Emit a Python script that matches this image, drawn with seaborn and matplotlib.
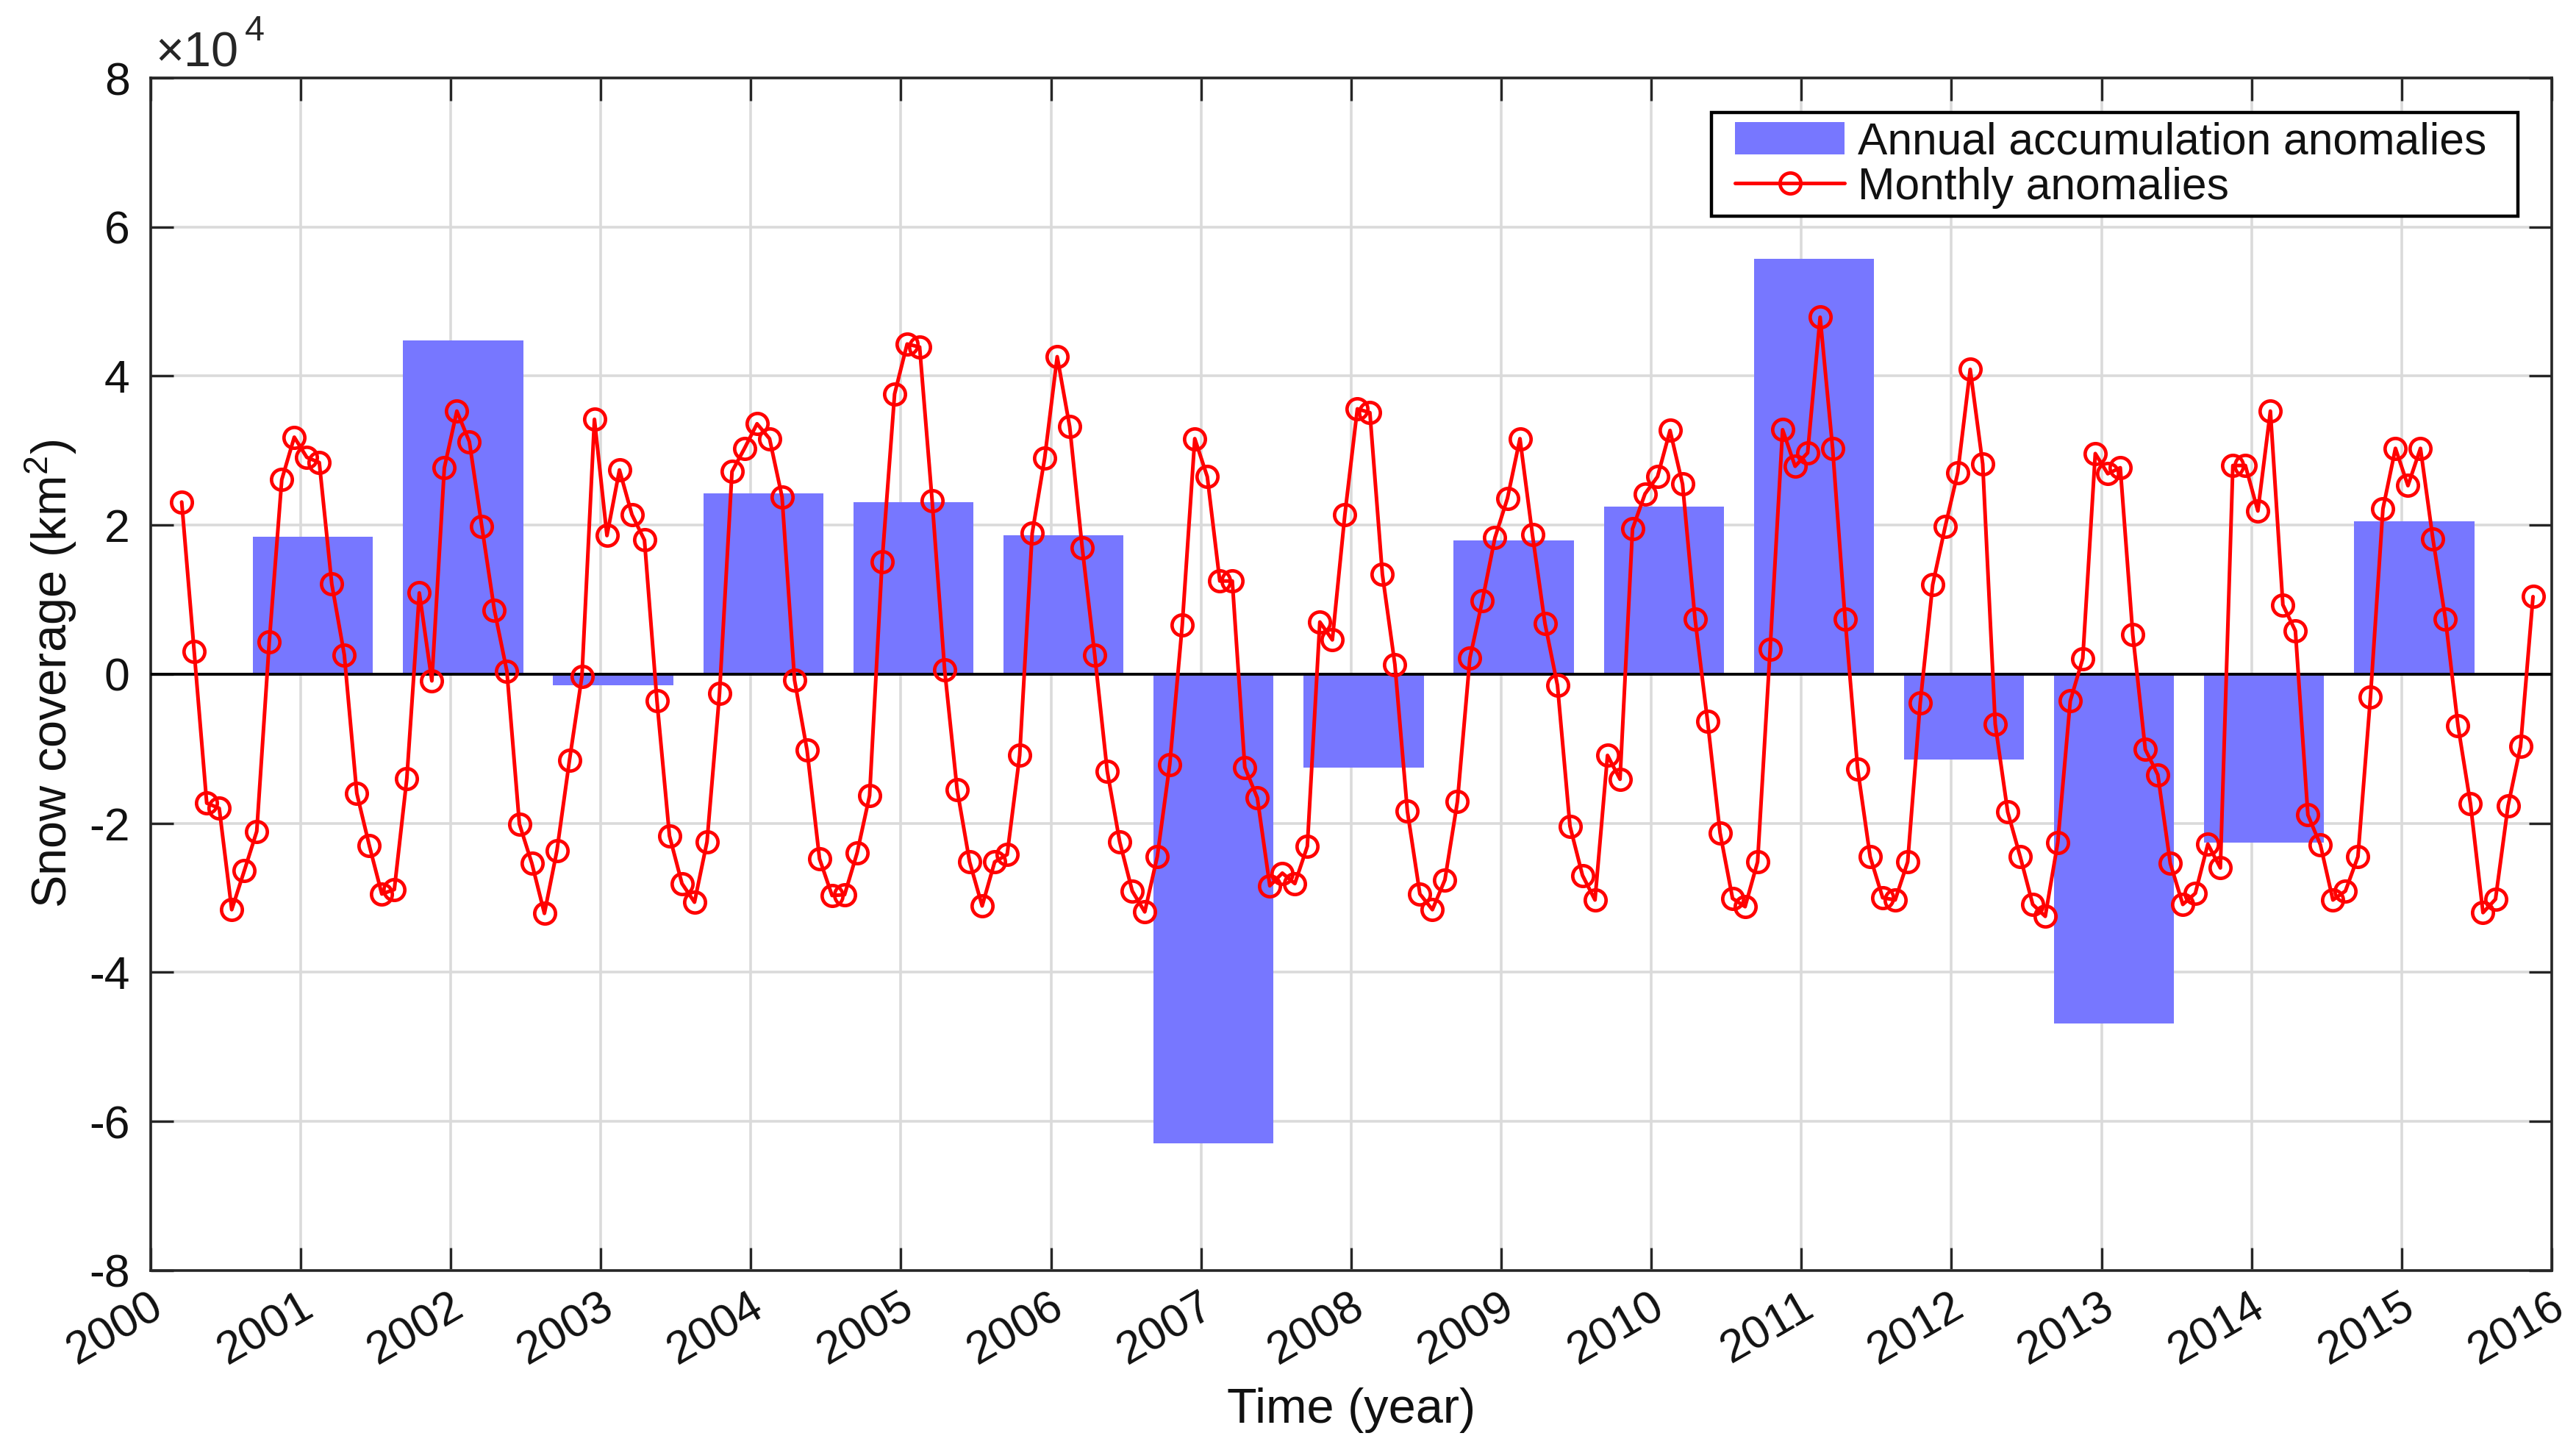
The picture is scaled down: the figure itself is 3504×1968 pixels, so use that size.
import numpy as np
import pandas as pd
import matplotlib
matplotlib.use("Agg")
import matplotlib.pyplot as plt
import matplotlib.transforms as mtransforms
from matplotlib.patches import Patch, Rectangle
from matplotlib.lines import Line2D
import seaborn as sns

# annual accumulation anomalies (x 10^4 km^2)
bar_years = list(range(2001, 2016))
bar_values = [1.84, 4.48, -0.15, 2.43, 2.31, 1.86, -6.30, -1.25,
              1.79, 2.25, 5.57, -1.15, -4.69, -2.26, 2.05]

# monthly anomalies (x 10^4 km^2), Mar 2000 .. Nov 2015
monthly_start = "2000-03"
monthly_values = [
    2.31, 0.30, -1.73, -1.80, -3.16, -2.64, -2.11, 0.43, 2.61, 3.18,              # 2000
    2.91, 2.84, 1.21, 0.26, -1.60, -2.30, -2.95, -2.89, -1.40, 1.09, -0.09, 2.77,  # 2001
    3.53, 3.12, 1.98, 0.86, 0.04, -2.01, -2.54, -3.21, -2.37, -1.16, -0.03, 3.42,  # 2002
    1.86, 2.74, 2.14, 1.80, -0.36, -2.17, -2.81, -3.06, -2.25, -0.26, 2.72, 3.03,  # 2003
    3.36, 3.16, 2.38, -0.08, -1.02, -2.48, -2.97, -2.96, -2.40, -1.63, 1.51, 3.76,  # 2004
    4.43, 4.39, 2.33, 0.06, -1.55, -2.52, -3.11, -2.52, -2.42, -1.09, 1.89, 2.90,  # 2005
    4.26, 3.32, 1.70, 0.26, -1.30, -2.25, -2.91, -3.19, -2.45, -1.21, 0.66, 3.16,  # 2006
    2.65, 1.25, 1.25, -1.25, -1.66, -2.84, -2.67, -2.81, -2.31, 0.70, 0.46, 2.14,  # 2007
    3.56, 3.51, 1.34, 0.13, -1.84, -2.95, -3.16, -2.76, -1.71, 0.22, 0.99, 1.83,  # 2008
    2.36, 3.16, 1.87, 0.68, -0.15, -2.04, -2.70, -3.03, -1.09, -1.41, 1.95, 2.42,  # 2009
    2.65, 3.27, 2.55, 0.74, -0.63, -2.13, -3.01, -3.12, -2.52, 0.33, 3.28, 2.79,  # 2010
    2.97, 4.79, 3.03, 0.74, -1.27, -2.45, -3.00, -3.03, -2.52, -0.39, 1.20, 1.98,  # 2011
    2.70, 4.09, 2.82, -0.67, -1.85, -2.45, -3.09, -3.25, -2.26, -0.36, 0.21, 2.96,  # 2012
    2.69, 2.77, 0.53, -1.01, -1.35, -2.54, -3.09, -2.94, -2.28, -2.60, 2.80, 2.80,  # 2013
    2.19, 3.53, 0.93, 0.58, -1.89, -2.29, -3.03, -2.91, -2.45, -0.31, 2.22, 3.03,  # 2014
    2.53, 3.03, 1.81, 0.74, -0.69, -1.74, -3.20, -3.02, -1.77, -0.97, 1.04,        # 2015
]

year_ticks = list(range(2000, 2017))
y_ticks = list(range(-8, 9, 2))

BAR_COLOR = "#7777ff"
LINE_COLOR = "#ff0000"
TEXT_COLOR = "#111111"

sns.set_style("ticks")
plt.rcParams["font.family"] = ["Liberation Sans", "DejaVu Sans"]
plt.rcParams["mathtext.default"] = "regular"
plt.rcParams["axes.unicode_minus"] = False

# decimal-year positions: months at mid-month, annual bars one month in
months = pd.period_range(monthly_start, periods=len(monthly_values), freq="M")
month_t = months.year + (months.month - 0.5) / 12
bar_t = np.array(bar_years) + 1 / 12

fig = plt.figure(figsize=(17.52, 9.84), dpi=200)
ax = fig.add_axes([0.0584, 0.1221, 0.9322, 0.8240])

line_kw = dict(color=LINE_COLOR, lw=1.8, marker="o", markersize=10.2,
               markerfacecolor="none", markeredgecolor=LINE_COLOR,
               markeredgewidth=1.7)

sns.barplot(x=bar_t, y=bar_values, native_scale=True, width=0.8,
            color=BAR_COLOR, saturation=1, linewidth=0, ax=ax, zorder=2)
ax.axhline(0, color="black", lw=1.4, zorder=3)
sns.lineplot(x=month_t, y=monthly_values, ax=ax, zorder=4, **line_kw)

ax.set_xlim(2000, 2016)
ax.set_ylim(-8, 8)
ax.set_xticks(year_ticks)
ax.set_xticklabels([str(y) for y in year_ticks])
ax.set_yticks(y_ticks)
ax.set_yticklabels([str(v) for v in y_ticks])

ax.grid(True, color="#dadada", lw=1.3)
ax.set_axisbelow(True)
for sp in ax.spines.values():
    sp.set_visible(True)
    sp.set_color("#262626")
    sp.set_linewidth(1.3)
ax.tick_params(direction="in", top=True, right=True, length=11, width=1.2,
               labelsize=22.5, colors="#262626", labelcolor=TEXT_COLOR)
ax.tick_params(axis="x", pad=7)
ax.tick_params(axis="y", pad=10)

shift = mtransforms.ScaledTranslation(-0.01, 0, fig.dpi_scale_trans)
for lab in ax.get_xticklabels():
    lab.set_rotation(30)
    lab.set_ha("right")
    lab.set_va("top")
    lab.set_rotation_mode("anchor")
    lab.set_transform(lab.get_transform() + shift)

# axis multiplier, written as base and exponent
ax.text(0.002, 1.0099, "\u00d710", transform=ax.transAxes, fontsize=24,
        color="#262626", ha="left", va="baseline")
ax.text(0.0393, 1.0315, "4", transform=ax.transAxes, fontsize=17.5,
        color="#262626", ha="left", va="baseline")

ax.set_xlabel("Time (year)", fontsize=24, color=TEXT_COLOR)
ax.set_ylabel("Snow coverage (km$^{2}$)", fontsize=24, color=TEXT_COLOR)
ax.xaxis.set_label_coords(0.5, -0.0985)
ax.yaxis.set_label_coords(-0.030, 0.5)

# legend: square black frame drawn as a box, entries placed inside it
ax.add_patch(Rectangle((0.650, 0.884), 0.336, 0.087, transform=ax.transAxes,
                       facecolor="white", edgecolor="black", lw=1.6, zorder=5))
handles = [Patch(facecolor=BAR_COLOR, edgecolor="none"), Line2D([], [], **line_kw)]
leg = ax.legend(handles, ["Annual accumulation anomalies", "Monthly anomalies"],
                loc="upper left", bbox_to_anchor=(0.660, 0.9635), borderaxespad=0,
                frameon=False, fontsize=21.8, handlelength=2.46, handleheight=0.74,
                handletextpad=0.29, labelspacing=0.07, borderpad=0)
for t in leg.get_texts():
    t.set_color(TEXT_COLOR)
leg.set_zorder(6)

fig.savefig("out.png", dpi=200)
